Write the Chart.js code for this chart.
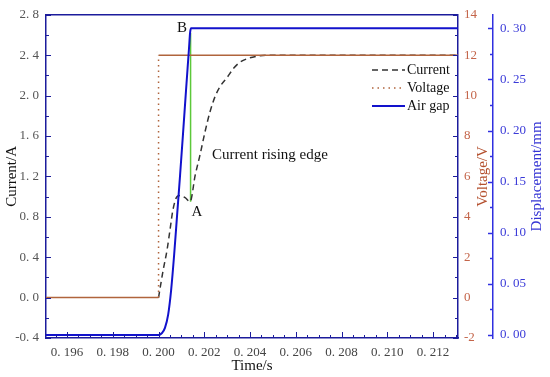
<!DOCTYPE html>
<html lang="en">
<head>
  <meta charset="UTF-8">
  <title>Current rising edge</title>
  <style>
    body {
      margin: 0;
      padding: 0;
      background: #fff;
    }
    #chart {
      display: block;
    }
  </style>
</head>
<body>
  <canvas id="chart" width="550" height="377"></canvas>

  <script src="https://cdn.jsdelivr.net/npm/chart.js"></script>
  <script>
    // 数据— current is 0 before 0.200 s, hidden under the voltage baseline
    const timeCurrent = [0.2000, 0.2002, 0.20037, 0.2005, 0.20063, 0.20081, 0.20094, 0.20116, 0.20138,
      0.2016, 0.20181, 0.20203, 0.20225, 0.20247, 0.20269, 0.203, 0.20328, 0.20356, 0.20393, 0.2043, 0.2047, 0.2052, 0.2060, 0.21309];
    const current = [0, 0.27, 0.47, 0.67, 0.87, 1.0, 1.01, 0.99, 0.95,
      1.21, 1.41, 1.64, 1.84, 1.99, 2.09, 2.18, 2.27, 2.33, 2.37, 2.39, 2.40, 2.40, 2.40, 2.40];

    const timeVoltage = [0.19508, 0.2000, 0.2000, 0.21309];
    const voltage = [0, 0, 12, 12];

    const timeGap = [0.19508, 0.2000, 0.20015, 0.20028, 0.20042, 0.20055, 0.20068, 0.20081, 0.20094,
      0.20107, 0.2012, 0.20133, 0.20138, 0.20142, 0.21309];
    const airGap = [0, 0, 0.002, 0.007, 0.020, 0.044, 0.078, 0.117, 0.156, 0.197, 0.239, 0.280, 0.296, 0.300, 0.300];

    // green marker A -> B
    const timeEdge = [0.2014, 0.2014];
    const edgeCurrent = [0.95, 2.62];

    // tick values / labels
    const xTickVals = [0.196, 0.198, 0.200, 0.202, 0.204, 0.206, 0.208, 0.210, 0.212];
    const xTickLabels = ['0. 196', '0. 198', '0. 200', '0. 202', '0. 204', '0. 206', '0. 208', '0. 210', '0. 212'];
    const currentTickVals = [-0.4, 0, 0.4, 0.8, 1.2, 1.6, 2.0, 2.4, 2.8];
    const currentTickLabels = ['-0. 4', '0. 0', '0. 4', '0. 8', '1. 2', '1. 6', '2. 0', '2. 4', '2. 8'];
    const voltageTickVals = [-2, 0, 2, 4, 6, 8, 10, 12, 14];
    const voltageTickLabels = ['-2', '0', '2', '4', '6', '8', '10', '12', '14'];
    const gapTickVals = [0, 0.05, 0.10, 0.15, 0.20, 0.25, 0.30];
    const gapTickLabels = ['0. 00', '0. 05', '0. 10', '0. 15', '0. 20', '0. 25', '0. 30'];

    const NAVY = '#1c1c9c';
    const BLUE = '#1212cc';
    const BROWN = '#b0643c';
    const GREEN = '#5cc83a';
    const SERIF = '"Liberation Serif", "Times New Roman", serif';

    const toXY = (xs, ys) => xs.map((x, i) => ({ x: x, y: ys[i] }));

    // 轴上的刻度（朝内）、标题、图例、注释
    const decorPlugin = {
      id: 'decor',
      afterDraw(chart) {
        const { ctx, chartArea: a, scales } = chart;
        const xs = scales.x, yc = scales.y, yv = scales.yV, yd = scales.yD;
        ctx.save();

        // top frame line
        ctx.strokeStyle = NAVY;
        ctx.lineWidth = 1.5;
        ctx.beginPath();
        ctx.moveTo(a.left, a.top);
        ctx.lineTo(a.right, a.top);
        ctx.stroke();

        ctx.lineWidth = 1;
        // x ticks
        ctx.strokeStyle = NAVY;
        for (let v = 0.1955; v < 0.2131; v += 0.0005) {
          const px = Math.round(xs.getPixelForValue(v)) + 0.5;
          const major = xTickVals.some(t => Math.abs(t - v) < 1e-6);
          ctx.beginPath();
          ctx.moveTo(px, a.bottom);
          ctx.lineTo(px, a.bottom - (major ? 6 : 3));
          ctx.stroke();
        }
        // current ticks
        for (let v = -0.4; v <= 2.81; v += 0.2) {
          const py = Math.round(yc.getPixelForValue(v)) + 0.5;
          const major = Math.abs(Math.round(v / 0.4) * 0.4 - v) < 1e-6;
          ctx.beginPath();
          ctx.moveTo(a.left, py);
          ctx.lineTo(a.left + (major ? 5 : 3), py);
          ctx.stroke();
        }
        // voltage ticks
        for (let v = -2; v <= 14; v += 1) {
          const py = Math.round(yv.getPixelForValue(v)) + 0.5;
          const major = v % 2 === 0;
          ctx.beginPath();
          ctx.moveTo(a.right, py);
          ctx.lineTo(a.right - (major ? 5 : 3), py);
          ctx.stroke();
        }
        // displacement ticks
        ctx.strokeStyle = '#3030e0';
        ctx.lineWidth = 1.5;
        for (let v = 0; v <= 0.301; v += 0.025) {
          const py = Math.round(yd.getPixelForValue(v)) + 0.5;
          const major = Math.abs(Math.round(v / 0.05) * 0.05 - v) < 1e-6;
          ctx.beginPath();
          ctx.moveTo(yd.left, py);
          ctx.lineTo(yd.left - (major ? 5 : 3), py);
          ctx.stroke();
        }

        // axis titles
        ctx.font = '15px ' + SERIF;
        ctx.textAlign = 'center';
        ctx.textBaseline = 'middle';
        const midY = (a.top + a.bottom) / 2;
        const vTitle = (text, x, color) => {
          ctx.save();
          ctx.translate(x, midY);
          ctx.rotate(-Math.PI / 2);
          ctx.fillStyle = color;
          ctx.fillText(text, 0, 0);
          ctx.restore();
        };
        vTitle('Current/A', 12, '#111');
        vTitle('Voltage/V', 483, '#b4502e');
        vTitle('Displacement/mm', 537, '#3434d4');
        ctx.fillStyle = '#111';
        ctx.fillText('Time/s', (a.left + a.right) / 2, 366);

        // legend
        const legend = [
          { text: 'Current', color: '#333', dash: [6, 4], width: 1.5, y: 70 },
          { text: 'Voltage', color: BROWN, dash: [1.5, 4], width: 1.5, y: 88 },
          { text: 'Air gap', color: BLUE, dash: [], width: 2, y: 106 }
        ];
        ctx.font = '14px ' + SERIF;
        ctx.textAlign = 'left';
        legend.forEach(item => {
          ctx.strokeStyle = item.color;
          ctx.lineWidth = item.width;
          ctx.setLineDash(item.dash);
          ctx.beginPath();
          ctx.moveTo(372, item.y);
          ctx.lineTo(405, item.y);
          ctx.stroke();
          ctx.setLineDash([]);
          ctx.fillStyle = '#111';
          ctx.fillText(item.text, 407, item.y);
        });

        // notes anchored to data coordinates
        const notes = [
          { text: 'B', t: 0.20103, c: 2.67, align: 'center' },
          { text: 'A', t: 0.20168, c: 0.85, align: 'center' },
          { text: 'Current rising edge', t: 0.20234, c: 1.41, align: 'left' }
        ];
        ctx.font = '15px ' + SERIF;
        notes.forEach(n => {
          ctx.textAlign = n.align;
          ctx.fillText(n.text, xs.getPixelForValue(n.t), yc.getPixelForValue(n.c));
        });

        ctx.restore();
      }
    };

    const tickFont = { family: SERIF, size: 13 };

    new Chart(document.getElementById('chart'), {
      type: 'line',
      data: {
        datasets: [
          {
            label: 'Air gap',
            data: toXY(timeGap, airGap),
            yAxisID: 'yD',
            borderColor: BLUE,
            borderWidth: 2,
            pointRadius: 0,
            cubicInterpolationMode: 'monotone',
            order: 0
          },
          {
            label: 'Voltage',
            data: toXY(timeVoltage, voltage),
            yAxisID: 'yV',
            borderColor: BROWN,
            borderWidth: 1.5,
            pointRadius: 0,
            tension: 0,
            segment: {
              borderDash: c => (c.p0.parsed.x === c.p1.parsed.x ? [1.5, 4] : undefined)
            },
            order: 1
          },
          {
            label: 'Current',
            data: toXY(timeCurrent, current),
            yAxisID: 'y',
            borderColor: '#333',
            borderWidth: 1.5,
            borderDash: [6, 4],
            pointRadius: 0,
            cubicInterpolationMode: 'monotone',
            order: 2
          },
          {
            label: 'edge',
            data: toXY(timeEdge, edgeCurrent),
            yAxisID: 'y',
            borderColor: GREEN,
            borderWidth: 1.5,
            pointRadius: 0,
            order: 3
          }
        ]
      },
      options: {
        responsive: false,
        animation: false,
        devicePixelRatio: 1,
        layout: { padding: { top: 14, left: 0, right: 0, bottom: 0 } },
        plugins: {
          legend: { display: false },
          tooltip: { enabled: false }
        },
        scales: {
          x: {
            type: 'linear',
            position: 'bottom',
            min: 0.19508,
            max: 0.21309,
            grid: { display: false, drawTicks: false },
            border: { color: NAVY, width: 1.5 },
            afterBuildTicks: s => { s.ticks = xTickVals.map(v => ({ value: v })); },
            afterFit: s => { s.height = 39; },
            ticks: {
              autoSkip: false,
              maxRotation: 0,
              padding: 7,
              color: '#444',
              font: tickFont,
              callback: (v, i) => xTickLabels[i]
            }
          },
          y: {
            type: 'linear',
            position: 'left',
            min: -0.4,
            max: 2.8,
            grid: { display: false, drawTicks: false },
            border: { color: NAVY, width: 1.5 },
            afterBuildTicks: s => { s.ticks = currentTickVals.map(v => ({ value: v })); },
            afterFit: s => { s.width = 46; },
            ticks: {
              padding: 7,
              color: '#555',
              font: tickFont,
              callback: (v, i) => currentTickLabels[i]
            }
          },
          yV: {
            type: 'linear',
            position: 'right',
            min: -2,
            max: 14,
            grid: { display: false, drawTicks: false },
            border: { color: NAVY, width: 1.5 },
            afterBuildTicks: s => { s.ticks = voltageTickVals.map(v => ({ value: v })); },
            afterFit: s => { s.width = 35; },
            ticks: {
              padding: 6,
              color: '#c4654a',
              font: tickFont,
              callback: (v, i) => voltageTickLabels[i]
            }
          },
          yD: {
            type: 'linear',
            position: 'right',
            min: -0.0029,
            max: 0.3132,
            grid: { display: false, drawTicks: false },
            border: { color: '#3030e0', width: 1.5 },
            afterBuildTicks: s => { s.ticks = gapTickVals.map(v => ({ value: v })); },
            afterFit: s => { s.width = 57; },
            ticks: {
              padding: 7,
              color: '#3a3ad8',
              font: tickFont,
              callback: (v, i) => gapTickLabels[i]
            }
          }
        }
      },
      plugins: [decorPlugin]
    });
  </script>
</body>
</html>
